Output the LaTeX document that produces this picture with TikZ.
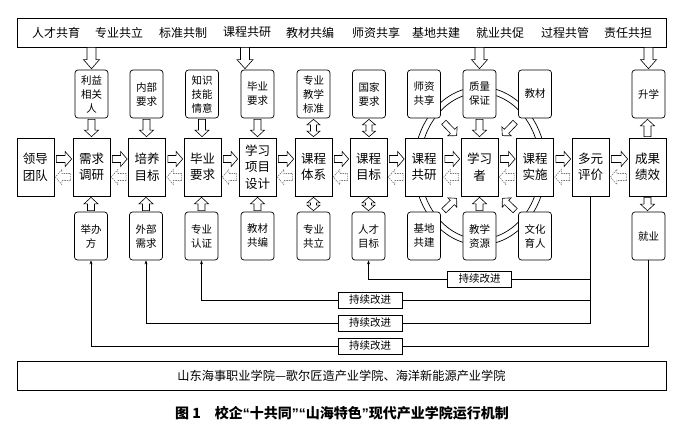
\documentclass[tikz,border=0pt]{standalone}
\usepackage{fontspec}
\setmainfont{Noto Sans CJK SC}
\newfontfamily\quotefont{Liberation Sans}
\usetikzlibrary{calc,arrows.meta}

% single-headed hollow block arrow: #1 style, #2 start, #3 end, #4 shaft half width, #5 head half width, #6 head length
\newcommand\blockarrow[6]{%
  \path[#1] let \p1=(#2), \p2=(#3), \p3=($(\p2)!#6pt!(\p1)$) in
    ($(\p1)!#4pt!90:(\p2)$) -- ($(\p3)!#4pt!90:(\p2)$) -- ($(\p3)!#5pt!90:(\p2)$) -- (\p2)
    -- ($(\p3)!#5pt!-90:(\p2)$) -- ($(\p3)!#4pt!-90:(\p2)$) -- ($(\p1)!#4pt!-90:(\p2)$) -- cycle;}
% double-headed hollow block arrow
\newcommand\dblockarrow[6]{%
  \path[#1] let \p1=(#2), \p2=(#3), \p3=($(\p2)!#6pt!(\p1)$), \p4=($(\p1)!#6pt!(\p2)$) in
    (\p1) -- ($(\p4)!#5pt!90:(\p2)$) -- ($(\p4)!#4pt!90:(\p2)$) -- ($(\p3)!#4pt!90:(\p2)$)
    -- ($(\p3)!#5pt!90:(\p2)$) -- (\p2) -- ($(\p3)!#5pt!-90:(\p2)$) -- ($(\p3)!#4pt!-90:(\p2)$)
    -- ($(\p4)!#4pt!-90:(\p2)$) -- ($(\p4)!#5pt!-90:(\p2)$) -- cycle;}
\newcommand\myopenq{{\quotefont\bfseries “}}
\newcommand\mycloseq{{\quotefont\bfseries ”}}

\tikzset{
  mbox/.style={draw, line width=0.7pt, fill=white, minimum width=37pt, minimum height=58pt,
    inner sep=0pt, align=center, font=\fontsize{12.5}{16.5}\selectfont},
  tbox/.style={draw, line width=0.7pt, fill=white, rounded corners=3pt, minimum width=33pt,
    minimum height=48pt, inner sep=0pt, align=center, font=\fontsize{10.5}{14}\selectfont},
  solidarr/.style={draw=black, line width=0.6pt, fill=white, line join=miter},
  dasharr/.style={draw=black!55, line width=0.6pt, fill=white, dash pattern=on 1.4pt off 1pt},
  fb/.style={line width=0.6pt},
  fbarr/.style={line width=0.6pt, -{Stealth[length=4pt,width=3pt]}},
  kbox/.style={draw, line width=0.6pt, fill=white, minimum width=64pt, minimum height=16pt,
    inner sep=0pt, font=\fontsize{10.5}{12}\selectfont},
  barbox/.style={draw, line width=0.8pt, inner sep=0pt, minimum width=649pt, minimum height=29pt},
  bartext/.style={inner sep=0pt, font=\fontsize{12}{14}\selectfont},
}

\begin{document}
\begin{tikzpicture}[x=1pt,y=-1pt]
\useasboundingbox (0,0) rectangle (691,432);

% top bar
\node[barbox] (topbar) at (341.5,32.5) {};
\foreach \xx/\tt [count=\i] in {56/人才共育,119/专业共立,183/标准共制,247/课程共研,310/教材共编,376/师资共享,436/基地共建,500/就业共促,565/过程共管,628/责任共担}{
  \node[bartext] (tb\i) at (\xx,32.5) {\tt};
}

% ring around the learner
\draw[line width=0.7pt] (480,166) ellipse [x radius=66pt, y radius=79pt];
\draw[line width=0.7pt] (480,166) ellipse [x radius=60pt, y radius=73pt];

% middle row
\node[mbox] (lead) at (35.5,167) {领导\\团队};
\node[mbox] (xq)   at (91.5,167) {需求\\调研};
\node[mbox] (py)   at (147,167) {培养\\目标};
\node[mbox] (by)   at (202.5,167) {毕业\\要求};
\node[mbox] (xx)   at (257.5,167) {学习\\项目\\设计};
\node[mbox] (kt)   at (313.5,167) {课程\\体系};
\node[mbox] (km)   at (368.5,167) {课程\\目标};
\node[mbox] (kg)   at (424,167) {课程\\共研};
\node[mbox] (xxz)  at (479.5,167) {学习\\者};
\node[mbox] (ks)   at (535,167) {课程\\实施};
\node[mbox] (dy)   at (590.5,167) {多元\\评价};
\node[mbox] (cg)   at (647.5,167) {成果\\绩效};

% top row
\node[tbox] (ly)  at (91.5,94) {利益\\相关\\人};
\node[tbox] (nb)  at (146.5,94) {内部\\要求};
\node[tbox] (zs)  at (202,94) {知识\\技能\\情意};
\node[tbox] (by2) at (257.5,94) {毕业\\要求};
\node[tbox] (zb)  at (313.5,94) {专业\\教学\\标准};
\node[tbox] (gj)  at (369,94) {国家\\要求};
\node[tbox] (sz)  at (424,94) {师资\\共享};
\node[tbox] (zl)  at (479.5,94) {质量\\保证};
\node[tbox] (jc)  at (535,94) {教材};
\node[tbox] (sx)  at (648.5,94) {升学};

% bottom row
\node[tbox] (jb)  at (91,236) {举办\\方};
\node[tbox] (wb)  at (146,236) {外部\\需求};
\node[tbox] (zr)  at (201.5,236) {专业\\认证};
\node[tbox] (jcb) at (257.5,236) {教材\\共编};
\node[tbox] (zgl) at (313.5,236) {专业\\共立};
\node[tbox] (rc)  at (368.5,236) {人才\\目标};
\node[tbox] (jd)  at (424,236) {基地\\共建};
\node[tbox] (jx)  at (479.5,236) {教学\\资源};
\node[tbox] (wh)  at (535,236) {文化\\育人};
\node[tbox] (jy)  at (648.5,236) {就业};

% arrows from the top bar
\blockarrow{solidarr}{ly.north |- topbar.south}{$(ly.north)+(0,-1)$}{4.5}{8}{9}
\blockarrow{solidarr}{$(by2.north |- topbar.south)+(-12.5,0)$}{$(by2.north)+(-12.5,-1)$}{4.5}{8}{9}
\blockarrow{solidarr}{zl.north |- topbar.south}{$(zl.north)+(0,-1)$}{4.5}{8}{9}
\blockarrow{solidarr}{sx.north |- topbar.south}{$(sx.north)+(0,-1)$}{4.5}{8}{9}

% horizontal arrows of the main chain
\foreach \a/\b in {lead/xq,xq/py,py/by,by/xx,xx/kt,kt/km,km/kg,kg/xxz,xxz/ks,ks/dy,dy/cg}{
  \blockarrow{solidarr}{$(\a.east)+(2,-8)$}{$(\b.west)+(-1,-8)$}{3.5}{7.5}{6.5}
  \blockarrow{dasharr}{$(\b.west)+(-2,10)$}{$(\a.east)+(1,10)$}{3.5}{7.5}{6.5}
}

% vertical arrows top row -> middle row
\foreach \a/\b in {ly/xq,nb/py,zs/by,by2/xx,zl/xxz}{
  \blockarrow{solidarr}{$(\a.south)+(0,1)$}{$(\a.south |- \b.north)+(0,-1)$}{3.5}{7}{6.5}
}
\blockarrow{solidarr}{$(cg.north)+(0,-1)$}{$(cg.north |- sx.south)+(0,1)$}{3.5}{7}{6.5}
\dblockarrow{solidarr}{$(zb.south)+(0,1)$}{$(zb.south |- kt.north)+(0,-1)$}{3}{6.5}{5.5}
\dblockarrow{solidarr}{$(gj.south)+(0,1)$}{$(gj.south |- km.north)+(0,-1)$}{3}{6.5}{5.5}

% vertical arrows bottom row -> middle row
\foreach \a/\b in {jb/xq,wb/py,zr/by,jcb/xx,jx/xxz}{
  \blockarrow{solidarr}{$(\a.north)+(0,-1)$}{$(\a.north |- \b.south)+(0,1)$}{3.5}{7}{6.5}
}
\blockarrow{solidarr}{$(cg.south)+(0,1)$}{$(cg.south |- jy.north)+(0,-1)$}{3.5}{7}{6.5}
\dblockarrow{solidarr}{$(zgl.north)+(0,-1)$}{$(zgl.north |- kt.south)+(0,1)$}{3}{6.5}{5.5}
\dblockarrow{solidarr}{$(rc.north)+(0,-1)$}{$(rc.north |- km.south)+(0,1)$}{3}{6.5}{5.5}

% diagonal arrows into the learner
\blockarrow{solidarr}{$(sz.south east)+(3,4)$}{$(xxz.north west)+(-4,-2)$}{3}{6.5}{6}
\blockarrow{solidarr}{$(jc.south west)+(-3,4)$}{$(xxz.north east)+(4,-2)$}{3}{6.5}{6}
\blockarrow{solidarr}{$(jd.north east)+(3,-1)$}{$(xxz.south west)+(-4,2)$}{3}{6.5}{6}
\blockarrow{solidarr}{$(wh.north west)+(-3,-1)$}{$(xxz.south east)+(4,2)$}{3}{6.5}{6}

% continuous improvement loops
\coordinate (k1) at (479.5,279);
\coordinate (k2) at (370,300);
\coordinate (k3) at (370,323);
\coordinate (k4) at (370,346);
\draw[fb] (dy.south) |- (k3);
\draw[fb] (dy.south) |- (k1);
\draw[fb] (dy.south) |- (k2);
\draw[fb] (jy.south) |- (k4);
\node[kbox] (kb1) at (k1) {持续改进};
\node[kbox] (kb2) at (k2) {持续改进};
\node[kbox] (kb3) at (k3) {持续改进};
\node[kbox] (kb4) at (k4) {持续改进};
\draw[fbarr] (kb1.west) -| (rc.south);
\draw[fbarr] (kb2.west) -| (zr.south);
\draw[fbarr] (kb3.west) -| (wb.south);
\draw[fbarr] (kb4.west) -| (jb.south);

% bottom bar
\node[barbox, font=\fontsize{12.2}{14}\selectfont] (botbar) at (341.5,375.5) {山东海事职业学院—歌尔匠造产业学院、海洋新能源产业学院};

% caption
\node[inner sep=0pt, font=\fontsize{14}{16}\selectfont\bfseries] (cap) at (342,413) {图 1\quad 校企\myopenq 十共同\mycloseq\myopenq 山海特色\mycloseq 现代产业学院运行机制};
\end{tikzpicture}
\end{document}
